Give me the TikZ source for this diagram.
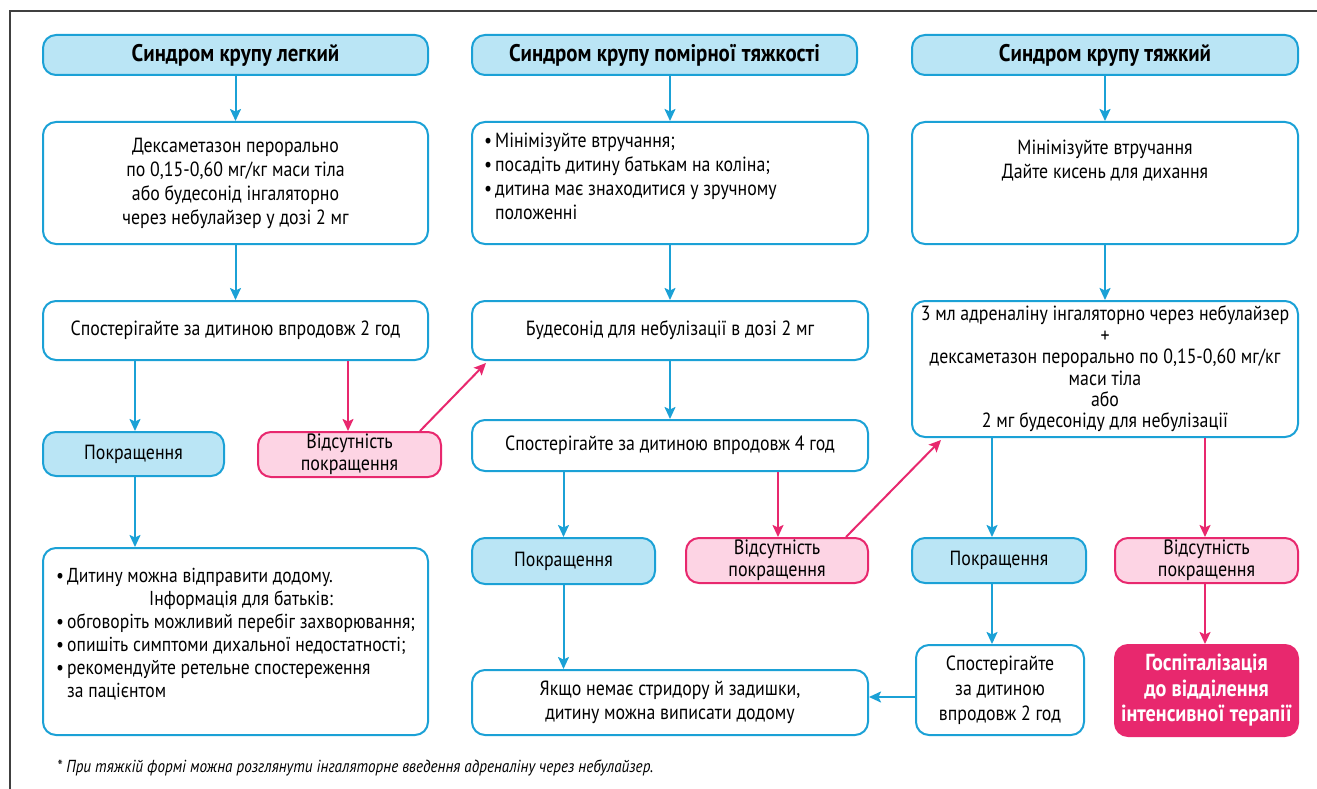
\documentclass[tikz,border=0pt]{standalone}
\usepackage{fontspec}
\setmainfont{PT Sans}[FakeStretch=0.87]
\usetikzlibrary{arrows.meta}
\definecolor{cblue}{HTML}{1BA1D6}
\definecolor{lblue}{HTML}{BAE5F5}
\definecolor{cpink}{HTML}{E8286E}
\definecolor{lpink}{HTML}{FDD4E4}
\newcommand\fsn{\fontsize{20.5}{24}\selectfont}
\newcommand\fst{\fontsize{24}{26}\selectfont\bfseries}
\newcommand\bul{\makebox[11pt][l]{•}}
\begin{document}
\begin{tikzpicture}[x=1pt,y=-1pt,
  box/.style={draw=cblue, line width=2pt, rounded corners=13pt, fill=white, align=center, font=\fsn, inner sep=0pt},
  titlebox/.style={box, fill=lblue, font=\fst},
  goodbox/.style={box, fill=lblue},
  badbox/.style={box, draw=cpink, fill=lpink, font=\fontsize{20.7}{22}\selectfont},
  hospbox/.style={box, draw=cpink, fill=cpink, text=white, font=\fontsize{23.2}{25.5}\selectfont\bfseries},
  txt/.style={inner sep=0pt, font=\fsn},
  barrow/.style={draw=cblue, line width=2pt, -{Stealth[length=12pt,width=11pt,inset=2.5pt]}},
  parrow/.style={draw=cpink, line width=2pt, -{Stealth[length=12pt,width=11pt,inset=2.5pt]}}]
\useasboundingbox (0,0) rectangle (1317,789);
\draw[line width=1.2pt, black!75] (1317,11) -- (10,11) -- (10,789);

% titles
\node[titlebox, minimum width=385pt, minimum height=40pt] (t1) at (235.5,55) {Синдром крупу легкий};
\node[titlebox, minimum width=385pt, minimum height=40pt] (t2) at (664.5,55) {Синдром крупу помірної тяжкості};
\node[titlebox, minimum width=386pt, minimum height=40pt] (t3) at (1105,55) {Синдром крупу тяжкий};

% row 2
\node[box, minimum width=385pt, minimum height=122pt] (d1) at (235.5,183) {Дексаметазон перорально\\по 0,15-0,60 мг/кг маси тіла\\або будесонід інгаляторно\\через небулайзер у дозі 2 мг};
\node[box, minimum width=396pt, minimum height=122pt] (m2) at (670,183) {};
\node[txt, anchor=west, align=left] (m2t) at (484,176) {\bul Мінімізуйте втручання;\\\bul посадіть дитину батькам на коліна;\\\bul дитина має знаходитися у зручному\\\hphantom{\bul}положенні};
\node[box, minimum width=386pt, minimum height=122pt] (m3) at (1105,183) {};
\node[txt, align=center] (m3t) at (1105,161) {Мінімізуйте втручання\\Дайте кисень для дихання};

% row 3
\node[box, minimum width=385pt, minimum height=59pt] (o1) at (235.5,330.5) {Спостерігайте за дитиною впродовж 2 год};
\node[box, minimum width=396pt, minimum height=59pt] (b2) at (670,330.5) {Будесонід для небулізації в дозі 2 мг};
\node[box, minimum width=386pt, minimum height=136pt, font=\fontsize{20.5}{21.4}\selectfont] (s3) at (1105,369) {3 мл адреналіну інгаляторно через небулайзер\\+\\дексаметазон перорально по 0,15-0,60 мг/кг\\маси тіла\\або\\2 мг будесоніду для небулізації};

% row 4
\node[goodbox, minimum width=181pt, minimum height=44pt] (p1) at (133.5,454) {Покращення};
\node[badbox, minimum width=183pt, minimum height=45pt] (n1) at (349.5,454.5) {Відсутність\\покращення};
\node[box, minimum width=396pt, minimum height=51pt] (o2) at (670,445.5) {Спостерігайте за дитиною впродовж 4 год};

% row 5
\node[goodbox, minimum width=183pt, minimum height=46pt] (p2) at (563.5,561) {Покращення};
\node[badbox, minimum width=182pt, minimum height=45pt] (n2) at (777,560.5) {Відсутність\\покращення};
\node[goodbox, minimum width=174pt, minimum height=45pt] (p3) at (999,560.5) {Покращення};
\node[badbox, minimum width=183pt, minimum height=45pt] (n3) at (1206.5,560.5) {Відсутність\\покращення};

% bottom row
\node[box, minimum width=385pt, minimum height=187pt] (f1) at (235.5,641.5) {};
\node[txt, anchor=west, align=left, font=\fontsize{20.2}{23}\selectfont] (f1t) at (56,634.5) {\bul Дитину можна відправити додому.\\\hspace*{93pt}Інформація для батьків:\\\bul обговоріть можливий перебіг захворювання;\\\bul опишіть симптоми дихальної недостатності;\\\bul рекомендуйте ретельне спостереження\\\hphantom{\bul}за пацієнтом};
\node[box, minimum width=396pt, minimum height=65pt] (y2) at (670,702.5) {Якщо немає стридору й задишки,\\дитину можна виписати додому};
\node[box, minimum width=168pt, minimum height=90pt, font=\fontsize{20.5}{25}\selectfont] (o3) at (1000,690) {Спостерігайте\\за дитиною\\впродовж 2 год};
\node[hospbox, minimum width=183pt, minimum height=91pt] (h3) at (1206.5,690.5) {Госпіталізація\\до відділення\\інтенсивної терапії};

\node[inner sep=0pt, anchor=west, font=\fontsize{17.4}{18}\selectfont\itshape] (fn) at (57,768) {* При тяжкій формі можна розглянути інгаляторне введення адреналіну через небулайзер.};

% arrows
\draw[barrow] (t1) -- (d1);
\draw[barrow] (d1) -- (o1);
\draw[barrow] ([xshift=1.5pt]p1.north |- o1.south) -- ([xshift=1.5pt]p1.north);
\draw[parrow] ([xshift=-1.5pt]n1.north |- o1.south) -- ([xshift=-1.5pt]n1.north);
\draw[barrow] ([xshift=1.5pt]p1.south) -- ([xshift=1.5pt]p1.south |- f1.north);
\draw[parrow] ([xshift=-22pt]n1.north east) -- ([xshift=15pt,yshift=-2pt]b2.south west);

\draw[barrow] (t2.south -| m2.north) -- (m2);
\draw[barrow] (m2) -- (b2);
\draw[barrow] (b2) -- (o2);
\draw[barrow] (p2.north |- o2.south) -- (p2.north);
\draw[parrow] ([xshift=1pt]n2.north |- o2.south) -- ([xshift=1pt]n2.north);
\draw[barrow] (p2.south) -- (p2.south |- y2.north);
\draw[parrow] ([xshift=-23pt]n2.north east) -- ([xshift=30pt,yshift=-2pt]s3.south west);

\draw[barrow] (t3) -- (m3);
\draw[barrow] (m3) -- (s3);
\draw[barrow] ([xshift=-7pt]p3.north |- s3.south) -- ([xshift=-7pt]p3.north);
\draw[parrow] ([xshift=-1.5pt]n3.north |- s3.south) -- ([xshift=-1.5pt]n3.north);
\draw[barrow] ([xshift=-7pt]p3.south) -- ([xshift=-7pt]p3.south |- o3.north);
\draw[parrow] ([xshift=-1.5pt]n3.south) -- ([xshift=-1.5pt]n3.south |- h3.north);
\draw[barrow] ([yshift=-7pt]o3.west) -- ([yshift=-7pt]o3.west -| y2.east);
\end{tikzpicture}
\end{document}
